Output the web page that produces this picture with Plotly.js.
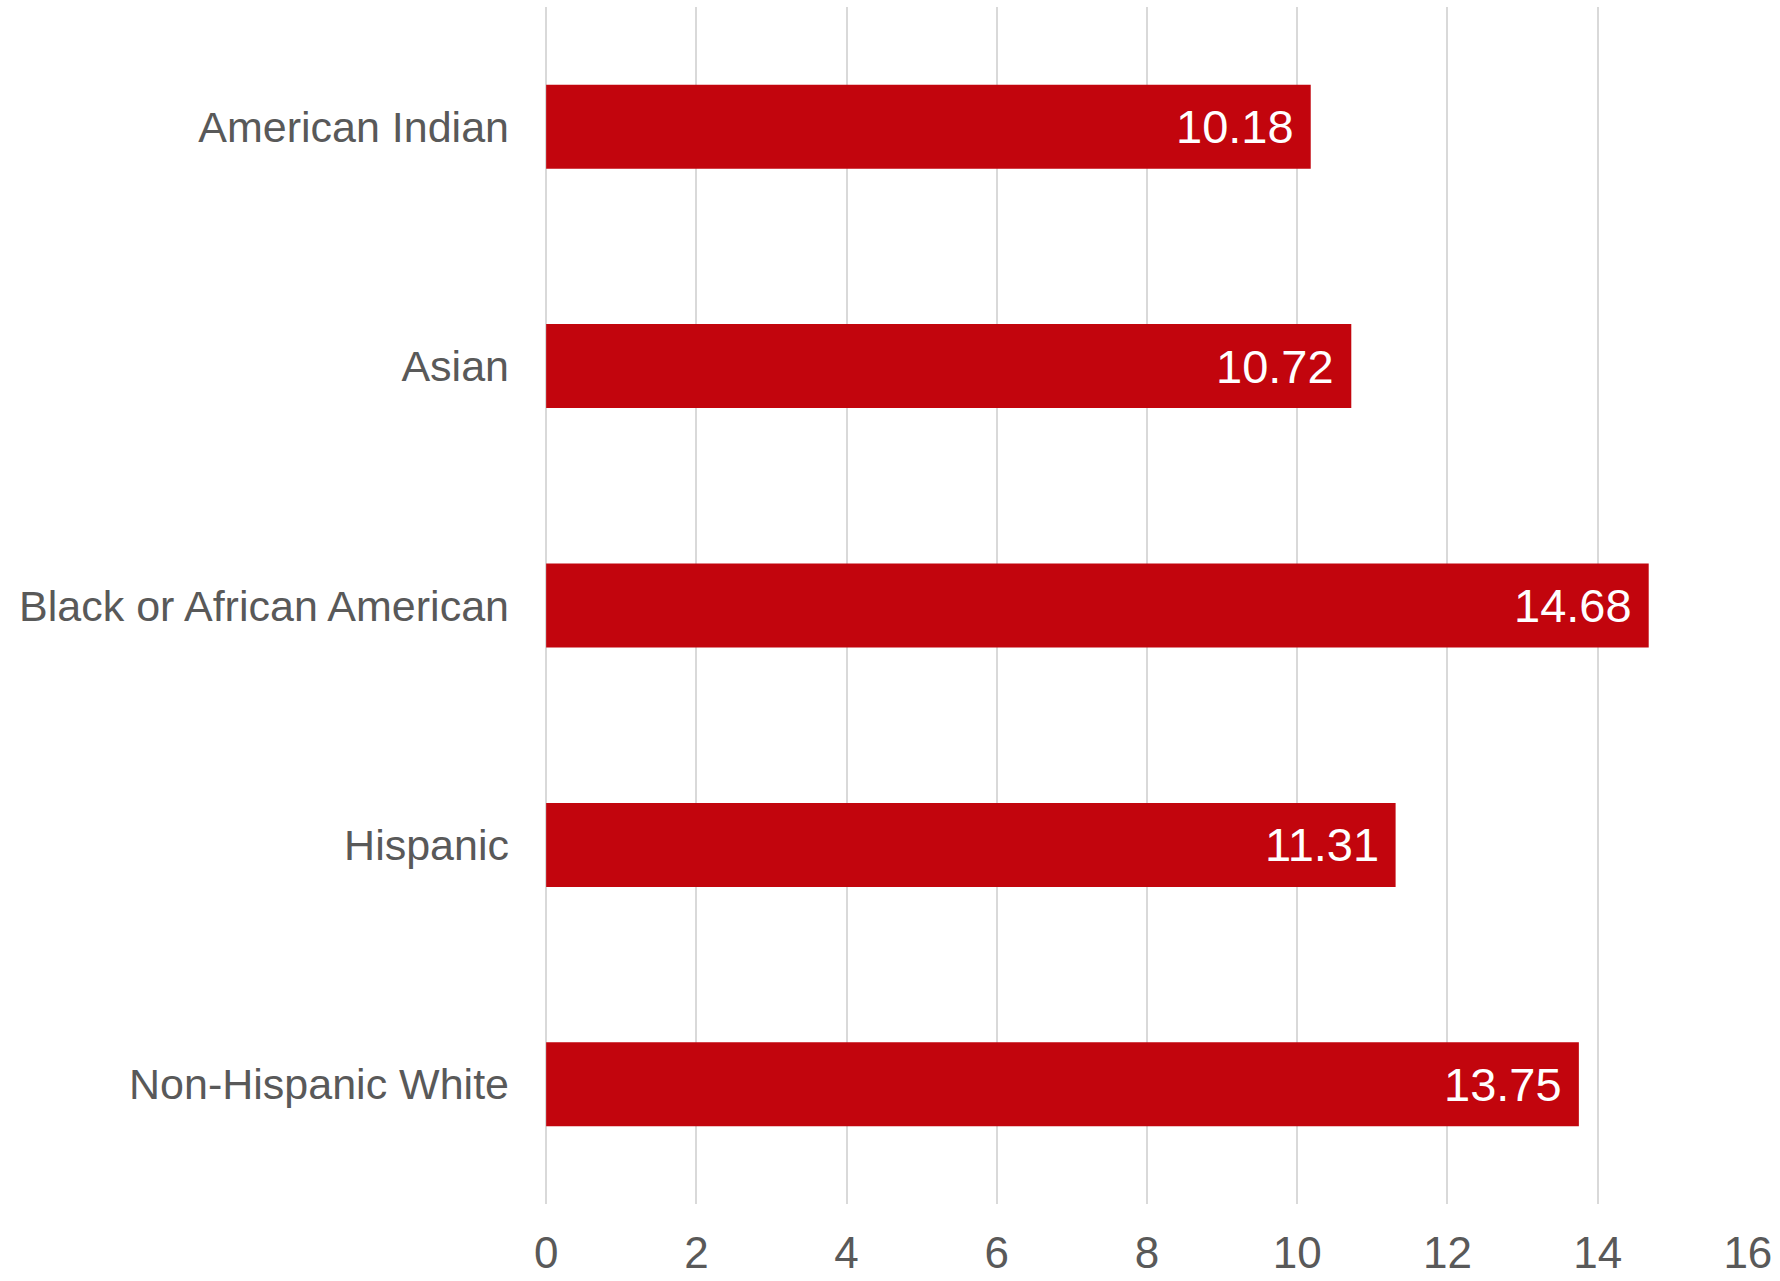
<!DOCTYPE html>
<html>
<head>
<meta charset="utf-8">
<script src="https://cdn.plot.ly/plotly-3.0.1.min.js"></script>
<style>html,body{margin:0;padding:0;background:#fff;}#chart{width:1780px;height:1281px;}</style>
</head>
<body>
<div id="chart"></div>
<script>
const categories = ["American Indian", "Asian", "Black or African American", "Hispanic", "Non-Hispanic White"];
const values = [10.18, 10.72, 14.68, 11.31, 13.75];
const valueLabels = ["10.18", "10.72", "14.68", "11.31", "13.75"];
const xTicks = [0, 2, 4, 6, 8, 10, 12, 14, 16];

const FONT = '"Liberation Sans", Arial, sans-serif';
const barColor = '#C2050D';

const trace = {
  type: 'bar',
  orientation: 'h',
  y: categories,
  x: values,
  marker: {color: barColor, line: {width: 0}},
  width: 0.351,
  hoverinfo: 'none'
};

const annotations = categories.map((c, i) => ({
  x: values[i],
  y: c,
  xref: 'x',
  yref: 'y',
  text: valueLabels[i],
  showarrow: false,
  xanchor: 'right',
  yanchor: 'middle',
  xshift: -15,
  font: {family: FONT, size: 47, color: '#ffffff'}
}));

const layout = {
  width: 1780,
  height: 1281,
  paper_bgcolor: '#ffffff',
  plot_bgcolor: '#ffffff',
  margin: {l: 546, r: 32, t: 7, b: 77, pad: 0},
  showlegend: false,
  font: {family: FONT, color: '#595959'},
  xaxis: {
    range: [-0.002, 16.002],
    tickvals: xTicks,
    ticktext: xTicks.map(String),
    showgrid: true,
    gridcolor: '#d9d9d9',
    gridwidth: 2,
    zeroline: true,
    zerolinecolor: '#d9d9d9',
    zerolinewidth: 2,
    showline: false,
    ticks: '',
    ticklabelstandoff: 19,
    tickfont: {family: FONT, size: 44, color: '#595959'},
    fixedrange: true
  },
  yaxis: {
    type: 'category',
    autorange: false,
    range: [4.5, -0.5],
    categoryorder: 'array',
    categoryarray: categories,
    showgrid: false,
    zeroline: false,
    showline: false,
    ticks: '',
    ticklabelstandoff: 36,
    tickfont: {family: FONT, size: 43, color: '#595959'},
    fixedrange: true
  },
  annotations: annotations,
  bargap: 0.649
};

Plotly.newPlot('chart', [trace], layout, {displayModeBar: false, staticPlot: true});
</script>
</body>
</html>
